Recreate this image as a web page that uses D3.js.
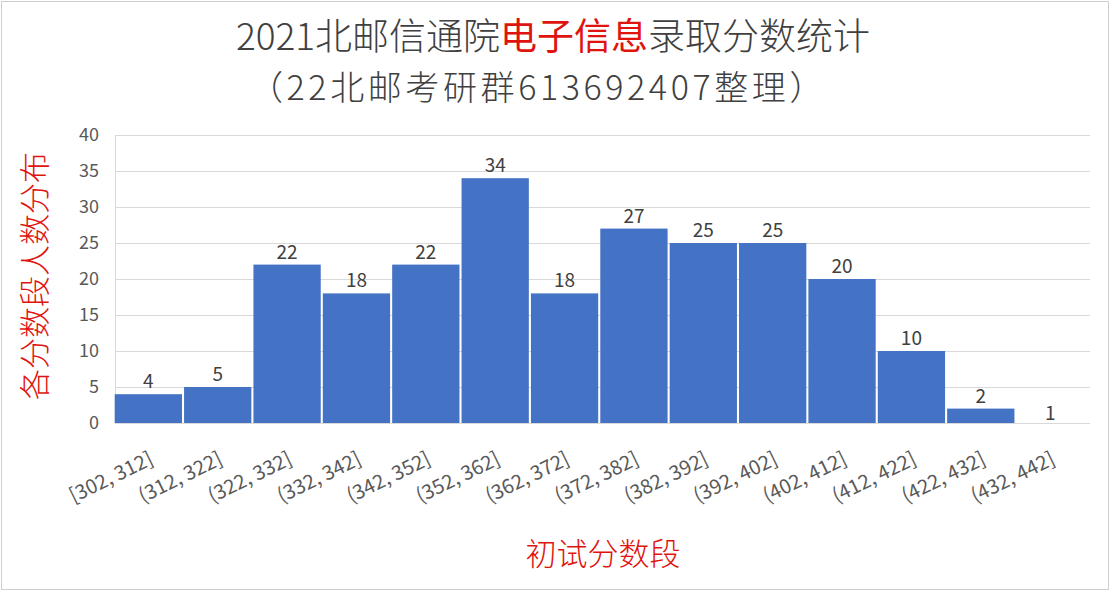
<!DOCTYPE html>
<meta charset="utf-8">
<style>
body { margin: 0; background: #fff; }
text { font-family: "Noto Sans CJK SC", "Noto Sans", sans-serif; }
.grid line { stroke: #d9d9d9; }
</style>
<svg width="1110" height="592"></svg>
<script src="https://cdn.jsdelivr.net/npm/d3@7"></script>
<script>

var bins = ["[302, 312]", "(312, 322]", "(322, 332]", "(332, 342]", "(342, 352]", "(352, 362]", "(362, 372]",
            "(372, 382]", "(382, 392]", "(392, 402]", "(402, 412]", "(412, 422]", "(422, 432]", "(432, 442]"];
var counts = [4, 5, 22, 18, 22, 34, 18, 27, 25, 25, 20, 10, 2, 1];
// the last bar shows only its label in the original
var hidden = [false, false, false, false, false, false, false, false, false, false, false, false, false, true];
var yTicks = [0, 5, 10, 15, 20, 25, 30, 35, 40];

var svg = d3.select("svg");

svg.append("rect")
    .attr("x", 1.5).attr("y", 1.5)
    .attr("width", 1107).attr("height", 588)
    .attr("fill", "#fff")
    .attr("stroke", "#cfcfcf");

var x = d3.scaleBand()
    .domain(bins)
    .range([114, 1084.5])
    .paddingInner(0.03)
    .paddingOuter(0.01);

var y = d3.scaleLinear()
    .domain([0, 40])
    .range([423, 135]);

// gridlines
svg.append("g")
    .attr("class", "grid")
  .selectAll("line")
  .data(yTicks)
  .join("line")
    .attr("x1", 115)
    .attr("x2", 1090)
    .attr("y1", function(d) { return Math.round(y(d)) + 0.5; })
    .attr("y2", function(d) { return Math.round(y(d)) + 0.5; });

svg.append("line")
    .attr("x1", 115.5).attr("x2", 115.5)
    .attr("y1", y(40)).attr("y2", y(0))
    .attr("stroke", "#d9d9d9");

// y axis labels
svg.append("g")
  .selectAll("text")
  .data(yTicks)
  .join("text")
    .attr("x", 99)
    .attr("y", function(d) { return y(d); })
    .attr("dy", "0.35em")
    .attr("text-anchor", "end")
    .attr("font-size", 18)
    .attr("fill", "#595959")
    .text(function(d) { return d; });

// bars
svg.append("g")
  .selectAll("rect")
  .data(counts)
  .join("rect")
    .attr("x", function(d, i) { return x(bins[i]); })
    .attr("width", x.bandwidth())
    .attr("y", function(d) { return y(d); })
    .attr("height", function(d) { return y(0) - y(d); })
    .attr("fill", function(d, i) { return hidden[i] ? "none" : "#4472c4"; });

// data labels
svg.append("g")
  .selectAll("text")
  .data(counts)
  .join("text")
    .attr("x", function(d, i) { return x(bins[i]) + x.bandwidth() / 2; })
    .attr("y", function(d, i) { return hidden[i] ? y(0) - 3 : y(d) - 6; })
    .attr("text-anchor", "middle")
    .attr("font-size", 19)
    .attr("fill", "#404040")
    .text(function(d) { return d; });

// x axis labels
svg.append("g")
  .selectAll("text")
  .data(bins)
  .join("text")
    .attr("transform", function(d) {
      return "translate(" + (x(d) + x.bandwidth() / 2) + "," + 451 + ") rotate(-26)";
    })
    .attr("text-anchor", "end")
    .attr("dy", "0.7em")
    .attr("font-size", 20)
    .attr("fill", "#595959")
    .text(function(d) { return d; });

// title
var t1 = svg.append("text")
    .attr("x", 553)
    .attr("y", 50)
    .attr("text-anchor", "middle")
    .attr("font-size", 37)
    .attr("font-weight", 300)
    .attr("fill", "#404040");
t1.append("tspan").text("2021北邮信通院");
t1.append("tspan").attr("fill", "#e0140e").attr("font-weight", 400).text("电子信息");
t1.append("tspan").text("录取分数统计");

svg.append("text")
    .attr("x", 538)
    .attr("y", 100)
    .attr("text-anchor", "middle")
    .attr("font-size", 34)
    .attr("font-weight", 300)
    .attr("letter-spacing", 3.6)
    .attr("fill", "#404040")
    .text("（22北邮考研群613692407整理）");

// axis titles
svg.append("text")
    .attr("transform", "translate(46,276) rotate(-90)")
    .attr("text-anchor", "middle")
    .attr("font-size", 31)
    .attr("font-weight", 300)
    .attr("fill", "#e0140e")
    .text("各分数段人数分布");

svg.append("text")
    .attr("x", 603)
    .attr("y", 565)
    .attr("text-anchor", "middle")
    .attr("font-size", 31)
    .attr("font-weight", 300)
    .attr("fill", "#e0140e")
    .text("初试分数段");

</script>
